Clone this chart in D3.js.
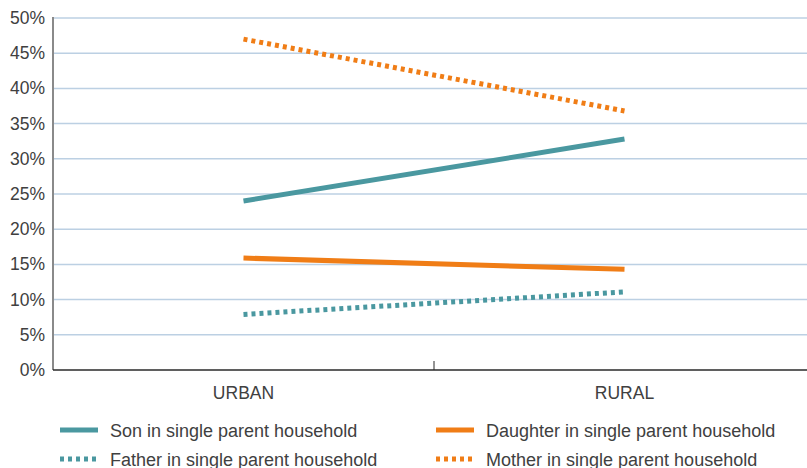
<!DOCTYPE html>
<html>
<head>
<meta charset="utf-8">
<script src="https://cdn.jsdelivr.net/npm/d3@7"></script>
<style>
  body { margin: 0; background: #fff; }
  svg text { font-family: "Liberation Sans", Arial, sans-serif; fill: #404040; }
</style>
</head>
<body>
<svg id="chart" width="807" height="468"></svg>
<script>
const categories = ["URBAN", "RURAL"];
const yTicks = [0, 5, 10, 15, 20, 25, 30, 35, 40, 45, 50];

const seriesNames = [
  "Son in single parent household",
  "Daughter in single parent household",
  "Father in single parent household",
  "Mother in single parent household"
];
const sonValues = [24.0, 32.8];
const daughterValues = [15.9, 14.3];
const fatherValues = [7.9, 11.1];
const motherValues = [47.0, 36.8];

const teal = "#4a98a0";
const orange = "#f07d16";

const series = [
  { name: seriesNames[0], values: sonValues, color: teal, dash: null },
  { name: seriesNames[1], values: daughterValues, color: orange, dash: null },
  { name: seriesNames[2], values: fatherValues, color: teal, dash: "4,4" },
  { name: seriesNames[3], values: motherValues, color: orange, dash: "4,4" }
];

const svg = d3.select("#chart");
const plotLeft = 53, plotRight = 815, plotTop = 18, plotBottom = 370;

const x = d3.scaleBand().domain(categories).range([plotLeft, plotRight]);
const y = d3.scaleLinear().domain([0, 50]).range([plotBottom, plotTop]);

// gridlines
svg.append("g")
  .selectAll("line")
  .data(yTicks.filter(d => d > 0))
  .join("line")
  .attr("x1", plotLeft).attr("x2", 807)
  .attr("y1", d => y(d)).attr("y2", d => y(d))
  .attr("stroke", "#bcd0e3")
  .attr("stroke-width", 1.5);

// y axis labels
svg.append("g")
  .selectAll("text")
  .data(yTicks)
  .join("text")
  .attr("x", 45)
  .attr("y", d => y(d) + 6)
  .attr("text-anchor", "end")
  .attr("font-size", 17.5)
  .text(d => d + "%");

// left axis line
svg.append("line")
  .attr("x1", plotLeft).attr("x2", plotLeft)
  .attr("y1", plotTop - 1).attr("y2", plotBottom)
  .attr("stroke", "#8a8a8a").attr("stroke-width", 2);

// bottom axis
svg.append("line")
  .attr("x1", plotLeft).attr("x2", 807)
  .attr("y1", plotBottom).attr("y2", plotBottom)
  .attr("stroke", "#2a2a2a").attr("stroke-width", 1.5);

// tick between categories
svg.append("line")
  .attr("x1", x("RURAL")).attr("x2", x("RURAL"))
  .attr("y1", plotBottom - 9).attr("y2", plotBottom)
  .attr("stroke", "#2a2a2a").attr("stroke-width", 1);

// category labels
svg.append("g")
  .selectAll("text")
  .data(categories)
  .join("text")
  .attr("x", d => x(d) + x.bandwidth() / 2)
  .attr("y", 399)
  .attr("text-anchor", "middle")
  .attr("font-size", 17.5)
  .text(d => d);

// lines
const line = d3.line()
  .x((d, i) => x(categories[i]) + x.bandwidth() / 2)
  .y(d => y(d));

svg.append("g")
  .selectAll("path")
  .data(series)
  .join("path")
  .attr("d", d => line(d.values))
  .attr("fill", "none")
  .attr("stroke", d => d.color)
  .attr("stroke-width", 5)
  .attr("stroke-dasharray", d => d.dash);

// legend
const legendPos = [
  { lx: 60, ty: 430 },
  { lx: 436, ty: 430 },
  { lx: 60, ty: 459 },
  { lx: 436, ty: 459 }
];

const legend = svg.append("g")
  .selectAll("g")
  .data(series)
  .join("g")
  .attr("transform", (d, i) => `translate(${legendPos[i].lx},${legendPos[i].ty})`);

legend.append("line")
  .attr("x1", 0).attr("x2", 38)
  .attr("y1", 0).attr("y2", 0)
  .attr("stroke", d => d.color)
  .attr("stroke-width", 5)
  .attr("stroke-dasharray", d => d.dash);

legend.append("text")
  .attr("x", 50)
  .attr("y", 6.5)
  .attr("font-size", 18)
  .text(d => d.name);
</script>
</body>
</html>
